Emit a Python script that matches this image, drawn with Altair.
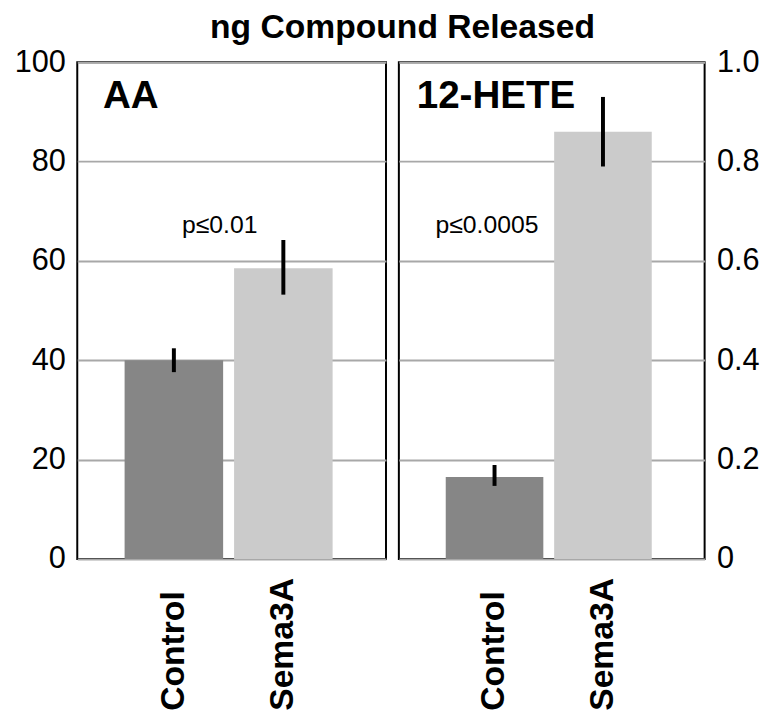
import altair as alt
import pandas as pd

groups = ["Control", "Sema3A"]
aa_mean = [40.0, 58.5]
aa_low = [37.6, 53.2]
aa_high = [42.4, 64.2]
hete_mean = [0.165, 0.86]
hete_low = [0.147, 0.79]
hete_high = [0.189, 0.93]
bar_colors = ["#868686", "#cbcbcb"]
aa_ticks = [0, 20, 40, 60, 80, 100]
hete_ticks = [0, 0.2, 0.4, 0.6, 0.8, 1.0]

FONT = "Liberation Sans"


def panel(mean, low, high, ymax, ticks, orient, label_expr, name, name_x,
          pval, p_x, p_y, width):
    df = pd.DataFrame({"group": groups, "mean": mean, "low": low, "high": high})
    xscale = alt.Scale(paddingInner=0.1, paddingOuter=0.46, align=0.47)
    x = alt.X("group:N", sort=groups, title=None, scale=xscale,
              axis=alt.Axis(labelAngle=270, labelAlign="left",
                            labelBaseline="middle", labelPadding=153,
                            labelFontSize=34, labelFontWeight="bold",
                            labelFont=FONT, labelColor="black",
                            ticks=False, domain=False))
    y = alt.Y("mean:Q", title=None,
              scale=alt.Scale(domain=[0, ymax], nice=False, zero=True),
              axis=alt.Axis(orient=orient, values=ticks, labelExpr=label_expr,
                            ticks=False, domain=False, grid=True,
                            gridColor="#a8a8a8", gridWidth=2,
                            labelFontSize=31, labelFont=FONT,
                            labelColor="black", labelPadding=12))
    bars = alt.Chart(df).mark_bar().encode(
        x=x, y=y,
        color=alt.Color("group:N", scale=alt.Scale(domain=groups, range=bar_colors),
                        legend=None),
    )
    err = alt.Chart(df).mark_rule(color="black", strokeWidth=4).encode(
        x=alt.X("group:N", sort=groups), y="low:Q", y2="high:Q"
    )
    nm = alt.Chart(pd.DataFrame({"t": [name]})).mark_text(
        font=FONT, fontSize=39, fontWeight="bold", align="left",
        baseline="alphabetic", color="black"
    ).encode(text="t:N", x=alt.value(name_x), y=alt.value(46))
    pv = alt.Chart(pd.DataFrame({"t": [pval]})).mark_text(
        font=FONT, fontSize=25, align="center", baseline="middle", color="black"
    ).encode(text="t:N", x=alt.value(p_x), y=alt.value(p_y))
    return alt.layer(bars, err, nm, pv).properties(width=width, height=502)


left = panel(aa_mean, aa_low, aa_high, 100, aa_ticks, "left",
             "format(datum.value, 'd')", "AA", 26, "p≤0.01", 144, 165, 312)
right = panel(hete_mean, hete_low, hete_high, 1.0, hete_ticks, "right",
              "datum.value == 0 ? '0' : format(datum.value, '.1f')",
              "12-HETE", 18, "p≤0.0005", 89, 165, 309)

chart = alt.hconcat(left, right, spacing=11).resolve_scale(
    y="independent", x="independent", color="independent"
).properties(
    title=alt.TitleParams("ng Compound Released", font=FONT, fontSize=34,
                          fontWeight="bold", anchor="middle", color="black",
                          offset=0, dx=16),
    padding={"left": 5, "right": 2, "top": 0, "bottom": 0},
).configure_view(stroke="black", strokeWidth=2)

chart.save("out.html", embed_options={"renderer": "svg", "actions": False})
